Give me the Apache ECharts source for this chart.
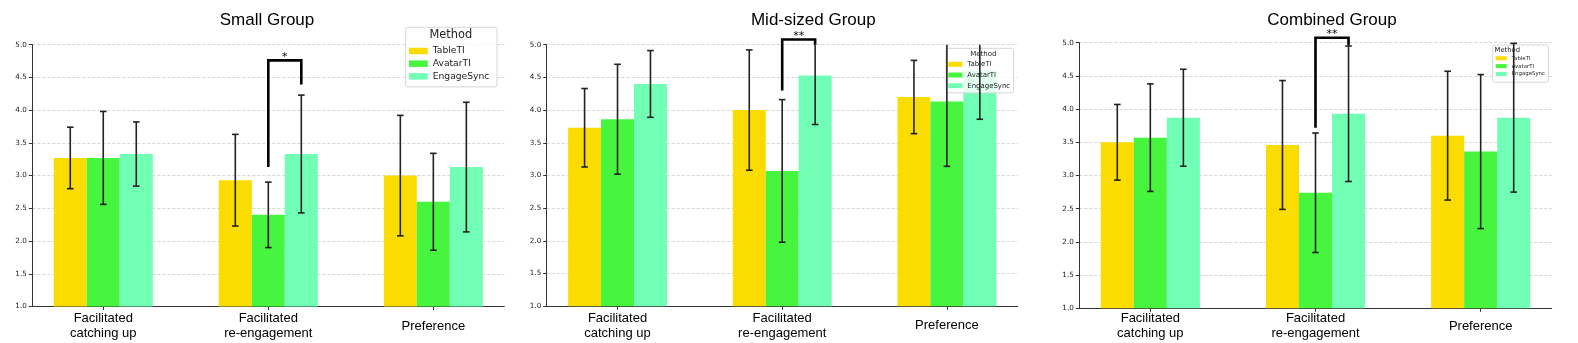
<!DOCTYPE html>
<html>
<head>
<meta charset="utf-8">
<script src="https://cdn.jsdelivr.net/npm/echarts@6/dist/echarts.min.js"></script>
<style>
html, body { margin: 0; padding: 0; background: #fff; }
#main { width: 1578px; height: 343px; }
</style>
</head>
<body>
<div id="main"></div>
<script>
// categories and methods
var categories = ['Facilitated\ncatching up', 'Facilitated\nre-engagement', 'Preference'];
var methods = ['TableTI', 'AvatarTI', 'EngageSync'];
var panelTitles = ['Small Group', 'Mid-sized Group', 'Combined Group'];
var colors = ['#FADC00', '#47F53F', '#70FFB5'];

// means / std dev, one row per method (TableTI, AvatarTI, EngageSync)
var smallMeans = [[3.27, 2.93, 3.00], [3.27, 2.40, 2.60], [3.33, 3.33, 3.13]];
var smallSd    = [[0.47, 0.70, 0.92], [0.71, 0.50, 0.74], [0.49, 0.90, 0.99]];
var midMeans   = [[3.73, 4.00, 4.20], [3.86, 3.07, 4.13], [4.40, 4.53, 4.60]];
var midSd      = [[0.60, 0.92, 0.56], [0.84, 1.09, 0.99], [0.51, 0.75, 0.74]];
var combMeans  = [[3.50, 3.46, 3.60], [3.57, 2.74, 3.36], [3.87, 3.93, 3.87]];
var combSd     = [[0.57, 0.97, 0.97], [0.81, 0.90, 1.16], [0.73, 1.02, 1.12]];

// significance bracket AvatarTI vs EngageSync on 'Facilitated re-engagement'
var sigCategory = 1;
var sigLeft  = [3.13, 4.30, 3.72];
var sigTop   = [4.76, 5.08, 5.075];
var sigRight = [4.39, 5.00, 4.96];
var sigLabel = ['*', '**', '**'];

var allMeans = [smallMeans, midMeans, combMeans];
var allSd = [smallSd, midSd, combSd];

// layout
var grids = [
	{ left: 32.3, top: 44.7, width: 472, height: 261.8 },
	{ left: 546.7, top: 44.7, width: 471, height: 261.6 },
	{ left: 1079.3, top: 42.7, width: 472.4, height: 265.6 }
];
var titlePos = [[267, 20.3], [813.3, 20.3], [1332, 20.3]];
var labelMargin = [19.5, 19.5, 17.7];
var legends = [
	{ left: 405.7, top: 27.3, padding: [18.2, 7.6, 5, 3.3], itemWidth: 18.7, itemHeight: 6.5, fontSize: 9.2, lineHeight: 11, itemGap: 1.7, head: [450.8, 35], headSize: 11.4 },
	{ left: 946, top: 48.3, padding: [11.5, 3.4, 2.7, 2.3], itemWidth: 14, itemHeight: 5, fontSize: 6.95, lineHeight: 9, itemGap: 1.7, head: [983.3, 54], headSize: 7 },
	{ left: 1492.7, top: 45, padding: [10, 3.4, 5, 3], itemWidth: 11, itemHeight: 4, fontSize: 5.4, lineHeight: 6.5, itemGap: 1.35, head: [1507.3, 50], headSize: 6.8 }
];

var groupFrac = 0.6;
var barUnit = groupFrac / methods.length;

function errRender(params, api) {
	var x = api.value(0);
	var pLo = api.coord([x, api.value(1)]);
	var pHi = api.coord([x, api.value(2)]);
	var top = params.coordSys.y;
	var hw = 3.3;
	var st = { stroke: '#222', lineWidth: 1.6 };
	var kids = [];
	var yHi = pHi[1] < top ? top : pHi[1];
	kids.push({ type: 'line', shape: { x1: pLo[0], y1: pLo[1], x2: pLo[0], y2: yHi }, style: st });
	kids.push({ type: 'line', shape: { x1: pLo[0] - hw, y1: pLo[1], x2: pLo[0] + hw, y2: pLo[1] }, style: st });
	if (pHi[1] >= top) {
		kids.push({ type: 'line', shape: { x1: pLo[0] - hw, y1: pHi[1], x2: pLo[0] + hw, y2: pHi[1] }, style: st });
	}
	return { type: 'group', children: kids };
}

function makeSigRender(p) {
	return function (params, api) {
		var a = api.coord([api.value(0), api.value(2)]);
		var t1 = api.coord([api.value(0), api.value(3)]);
		var t2 = api.coord([api.value(1), api.value(3)]);
		var b = api.coord([api.value(1), api.value(4)]);
		return {
			type: 'group',
			children: [
				{ type: 'polyline', shape: { points: [a, t1, t2, b] }, style: { stroke: '#000', lineWidth: 2.6, fill: null } },
				{ type: 'text', x: (t1[0] + t2[0]) / 2, y: t1[1] + 2,
					style: { text: sigLabel[p], align: 'center', verticalAlign: 'bottom',
						fontSize: 11, fontFamily: 'DejaVu Sans', fill: '#000' } }
			]
		};
	};
}

var option = {
	animation: false,
	grid: [], xAxis: [], yAxis: [], series: [], legend: [], graphic: []
};

for (var p = 0; p < 3; p++) {
	option.grid.push(grids[p]);
	option.xAxis.push({
		type: 'value', gridIndex: p, min: -0.43, max: 2.43,
		axisLine: { show: true, onZero: false, lineStyle: { color: '#333', width: 1 } },
		axisTick: { show: true, customValues: [0, 1, 2], length: 3.5, lineStyle: { color: '#333' } },
		axisLabel: {
			customValues: [0, 1, 2],
			formatter: function (v) { return categories[Math.round(v)]; },
			fontSize: 13, fontFamily: 'Liberation Sans', color: '#000',
			lineHeight: 15.3, verticalAlign: 'middle', margin: labelMargin[p]
		},
		splitLine: { show: false }
	});
	option.yAxis.push({
		type: 'value', gridIndex: p, min: 1, max: 5, interval: 0.5,
		axisLine: { show: true, onZero: false, lineStyle: { color: '#333', width: 1 } },
		axisTick: { show: true, length: 3.5, lineStyle: { color: '#333' } },
		axisLabel: {
			formatter: function (v) { return v.toFixed(1); },
			fontSize: 7.2, fontFamily: 'DejaVu Sans', color: '#222', margin: 5.5
		},
		splitLine: { show: true, lineStyle: { color: '#ccc', width: 0.8, type: [3, 2] } }
	});

	var errData = [];
	for (var m = 0; m < methods.length; m++) {
		option.series.push({
			type: 'bar', name: methods[m], xAxisIndex: p, yAxisIndex: p,
			data: allMeans[p][m].map(function (v, i) { return [i, v]; }),
			itemStyle: { color: colors[m] },
			barGap: '0%', barCategoryGap: (100 - groupFrac * 100) + '%',
			z: 2
		});
		for (var i = 0; i < categories.length; i++) {
			var mu = allMeans[p][m][i], sd = allSd[p][m][i];
			errData.push([i + (m - 1) * barUnit, mu - sd, mu + sd]);
		}
	}
	option.series.push({
		type: 'custom', xAxisIndex: p, yAxisIndex: p, silent: true, z: 5,
		renderItem: errRender, data: errData
	});
	option.series.push({
		type: 'custom', xAxisIndex: p, yAxisIndex: p, silent: true, z: 6,
		renderItem: makeSigRender(p),
		data: [[sigCategory, sigCategory + barUnit, sigLeft[p], sigTop[p], sigRight[p]]]
	});

	var lg = legends[p];
	option.legend.push({
		data: methods, orient: 'vertical', left: lg.left, top: lg.top, padding: lg.padding,
		itemWidth: lg.itemWidth, itemHeight: lg.itemHeight, itemGap: lg.itemGap, icon: 'rect',
		backgroundColor: 'rgba(255,255,255,0.8)', borderColor: '#d6d6d6', borderWidth: 1, borderRadius: 2,
		textStyle: { fontSize: lg.fontSize, lineHeight: lg.lineHeight, fontFamily: 'DejaVu Sans', color: '#222' },
		selectedMode: false
	});
	option.graphic.push({
		type: 'text', x: lg.head[0], y: lg.head[1], z: 100,
		style: { text: 'Method', align: 'center', verticalAlign: 'middle', fontSize: lg.headSize, fontFamily: 'DejaVu Sans', fill: '#222' }
	});
	option.graphic.push({
		type: 'text', x: titlePos[p][0], y: titlePos[p][1],
		style: { text: panelTitles[p], align: 'center', verticalAlign: 'middle', fontSize: 17, fontFamily: 'Liberation Sans', fill: '#000' }
	});
}

var myChart = echarts.init(document.getElementById('main'));
myChart.setOption(option);
</script>
</body>
</html>
